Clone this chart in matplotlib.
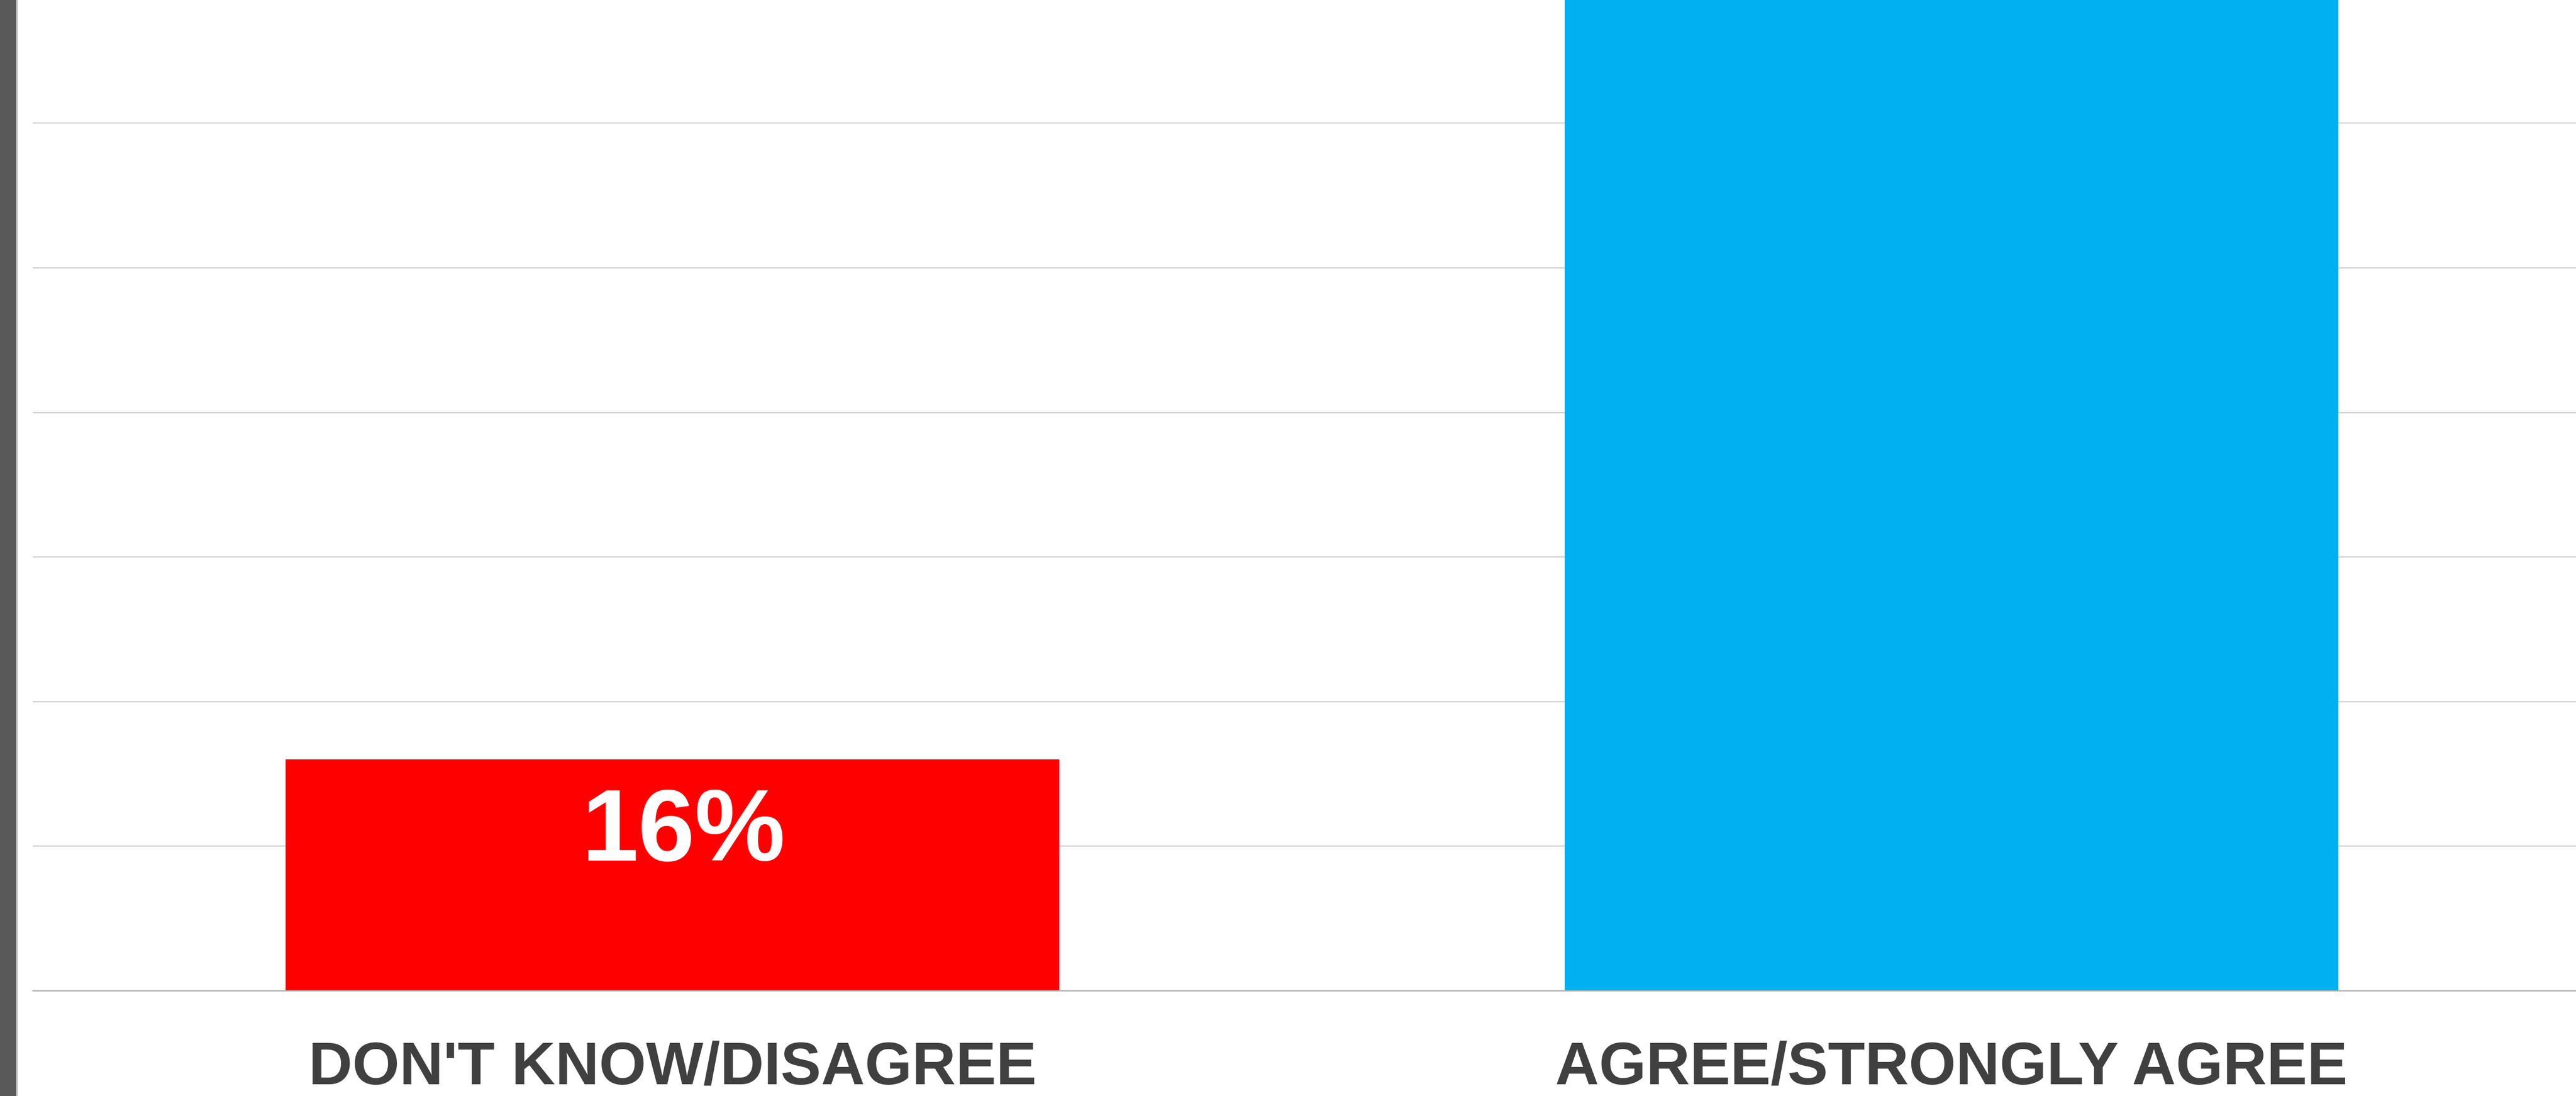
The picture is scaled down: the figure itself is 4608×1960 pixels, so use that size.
import matplotlib.pyplot as plt
from matplotlib.patches import Rectangle

# 数据
categories = ["DON'T KNOW/DISAGREE", "AGREE/STRONGLY AGREE"]
values = [16, 84]
colors = ['#FF0000', '#00B0F0']
yticks = [0, 10, 20, 30, 40, 50, 60]

W, H = 4608, 1960
fig = plt.figure(figsize=(W / 100, H / 100), dpi=100)
fig.patch.set_facecolor('white')

# 画布左侧的深灰色边条
fig.patches.append(Rectangle((0, 0), 29 / W, 1, transform=fig.transFigure,
                             facecolor='#595959', edgecolor='none', zorder=0))
fig.patches.append(Rectangle((29 / W, 0), 3 / W, 1, transform=fig.transFigure,
                             facecolor='#c8c8c8', edgecolor='none', zorder=0))

# 坐标轴：左 59px，底部基线在 y=1772px，每 10% = 258.6px
ax = fig.add_axes([59 / W, 188 / H, 4576 / W, 1772 / H])
ax.set_facecolor('none')
ax.set_xlim(-0.5, 1.5)
ax.set_ylim(0, 1772 / 25.86)

x = range(len(categories))
ax.bar(x, values, width=0.605, color=colors, zorder=2)

ax.set_yticks(yticks)
ax.yaxis.grid(True, color='#cfcfcf', linewidth=1.6)
ax.set_axisbelow(True)
ax.tick_params(axis='y', left=False, labelleft=False)
for s in ['top', 'right', 'left']:
    ax.spines[s].set_visible(False)
ax.spines['bottom'].set_color('#b0b0b0')
ax.spines['bottom'].set_linewidth(1.6)

ax.set_xticks(list(x))
ax.set_xticklabels(categories, fontsize=78, fontweight='bold', color='#404040',
                   family='Liberation Sans')
ax.tick_params(axis='x', length=0, pad=64)

# 柱内百分比标签
for i, v in enumerate(values):
    ax.annotate(f'{v}%', (i, v), xytext=(14, -35), textcoords='offset points',
                ha='center', va='top', fontsize=131, fontweight='bold', color='white',
                family='Liberation Sans', annotation_clip=True,
                clip_on=True, zorder=3)

fig.savefig('out.png', dpi=100)
